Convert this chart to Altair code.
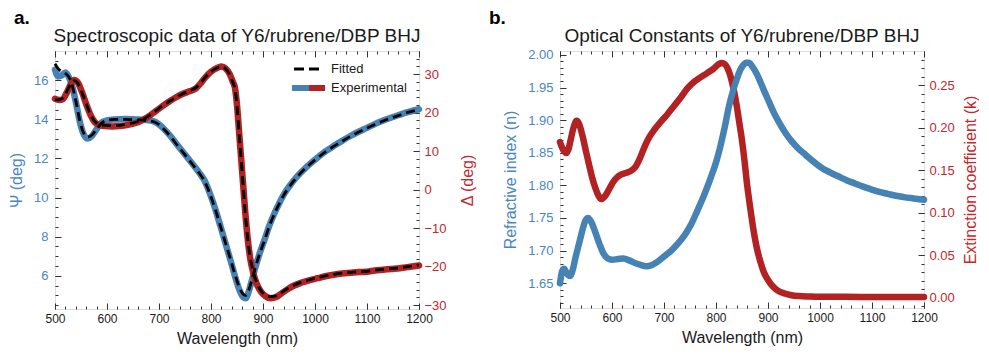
import altair as alt
import pandas as pd

FONT = "Liberation Sans"
BLUE = "#4682b4"
RED = "#b22222"
BLUE_T = "#4a86bf"
RED_T = "#c1272d"
FRAME = "#333333"
INK = "#1a1a1a"

# ---------------- Panel a: spectroscopic data ----------------
psi_wl = [500, 506, 513, 520, 526, 532, 540, 548, 555, 563, 571, 580, 590, 600, 615, 635,
          655, 675, 690, 700, 710, 722, 735, 750, 765, 778, 788, 798, 809, 818, 828, 838,
          847, 855, 862, 867, 872, 878, 884, 893, 903, 912, 922, 931, 941, 954, 967, 985,
          1005, 1020, 1036, 1052, 1068, 1084, 1100, 1115, 1131, 1147, 1163, 1180, 1200]
psi_exp = [16.55, 16.2, 16.25, 16.4, 16.2, 15.8, 14.9, 13.85, 13.25, 13.02, 13.15, 13.5, 13.85,
           13.95, 14.0, 14.02, 14.0, 13.97, 13.9, 13.75, 13.5, 13.15, 12.7, 12.2, 11.7, 11.25,
           10.85, 10.2, 9.35, 8.55, 7.65, 6.75, 5.9, 5.25, 4.9, 4.85, 5.15, 5.7, 6.3, 7.1, 7.85,
           8.55, 9.2, 9.7, 10.2, 10.7, 11.12, 11.6, 12.05, 12.36, 12.64, 12.9, 13.15, 13.37,
           13.57, 13.76, 13.94, 14.1, 14.24, 14.38, 14.52]
psi_fit = [16.85, 16.6, 16.45, 16.35, 16.2, 15.85, 14.95, 13.9, 13.3, 13.1, 13.2, 13.5, 13.82,
           13.95, 14.0, 14.0, 13.98, 13.95, 13.88, 13.73, 13.48, 13.13, 12.68, 12.18, 11.68,
           11.23, 10.82, 10.18, 9.33, 8.55, 7.67, 6.8, 5.98, 5.38, 5.05, 5.0, 5.22, 5.72, 6.3,
           7.08, 7.82, 8.52, 9.17, 9.68, 10.17, 10.68, 11.1, 11.58, 12.03, 12.34, 12.62, 12.88,
           13.13, 13.35, 13.55, 13.74, 13.92, 14.08, 14.22, 14.37, 14.5]

del_wl = [500, 508, 515, 522, 530, 537, 544, 552, 560, 568, 576, 585, 595, 610, 625, 640, 655,
          670, 683, 695, 708, 721, 733, 746, 760, 771, 780, 790, 800, 810, 820, 828, 836, 842,
          846, 850, 854, 858, 862, 866, 870, 875, 881, 888, 896, 905, 915, 925, 935, 948, 960,
          973, 990, 1005, 1020, 1036, 1052, 1068, 1084, 1100, 1115, 1131, 1147, 1163, 1180, 1200]
del_exp = [23.6, 23.3, 23.5, 25.0, 27.3, 28.5, 27.8, 25.3, 22.2, 19.5, 17.6, 16.8, 16.5, 16.4,
           16.5, 16.8, 17.3, 18.2, 19.3, 20.5, 21.8, 23.0, 24.0, 24.9, 25.6, 26.3, 27.6, 29.3,
           30.6, 31.5, 32.0, 31.5, 30.0, 28.0, 26.5, 22.0, 15.0, 8.0, 1.0, -6.0, -12.0, -17.5,
           -21.5, -24.5, -26.5, -27.7, -28.2, -27.9, -27.0, -25.8, -24.9, -24.2, -23.5, -23.0,
           -22.5, -22.1, -21.8, -21.6, -21.4, -21.3, -21.0, -20.8, -20.6, -20.4, -20.1, -19.7]
del_fit = [23.3, 23.4, 23.8, 25.3, 27.4, 28.3, 27.6, 25.2, 22.3, 19.6, 17.8, 16.9, 16.7, 16.6,
           16.7, 17.0, 17.5, 18.3, 19.4, 20.6, 21.9, 23.0, 24.0, 24.9, 25.7, 26.5, 27.7, 29.3,
           30.6, 31.5, 31.9, 31.4, 29.9, 27.8, 26.2, 21.8, 14.8, 7.8, 0.8, -6.2, -12.0, -17.3,
           -21.2, -24.2, -26.2, -27.4, -27.8, -27.6, -26.8, -25.6, -24.8, -24.1, -23.4, -22.9,
           -22.4, -22.0, -21.7, -21.5, -21.3, -21.2, -20.9, -20.7, -20.5, -20.3, -20.0, -19.6]

# ---------------- Panel b: optical constants ----------------
n_wl = [500, 504, 508, 513, 519, 525, 530, 537, 543, 549, 554, 560, 568, 576, 584, 592, 600,
        611, 622, 633, 644, 655, 666, 677, 688, 700, 714, 727, 739, 752, 764, 777, 790, 800,
        809, 817, 824, 832, 840, 846, 852, 858, 863, 870, 877, 883, 892, 902, 911, 921, 933,
        946, 959, 972, 988, 1003, 1019, 1035, 1051, 1067, 1083, 1098, 1114, 1130, 1146, 1161,
        1180, 1200]
n_val = [1.650, 1.668, 1.672, 1.665, 1.661, 1.672, 1.690, 1.712, 1.731, 1.746, 1.750, 1.744,
         1.728, 1.710, 1.695, 1.688, 1.686, 1.687, 1.688, 1.685, 1.681, 1.678, 1.676, 1.678,
         1.683, 1.691, 1.700, 1.711, 1.723, 1.740, 1.761, 1.785, 1.812, 1.835, 1.862, 1.890,
         1.918, 1.943, 1.963, 1.976, 1.984, 1.988, 1.988, 1.982, 1.973, 1.963, 1.946, 1.928,
         1.912, 1.897, 1.881, 1.867, 1.856, 1.847, 1.836, 1.827, 1.820, 1.814, 1.808, 1.803,
         1.798, 1.794, 1.790, 1.787, 1.784, 1.782, 1.780, 1.778]

k_wl = [500, 506, 512, 517, 521, 526, 532, 537, 543, 550, 556, 562, 568, 574, 579, 586, 594,
        601, 609, 618, 628, 636, 644, 653, 663, 672, 682, 694, 707, 720, 733, 745, 758, 770,
        783, 795, 804, 810, 816, 822, 828, 834, 840, 845, 850, 855, 860, 866, 872, 878, 885,
        892, 900, 910, 920, 932, 945, 960, 980, 1000, 1050, 1100, 1150, 1200]
k_val = [0.183, 0.174, 0.170, 0.176, 0.187, 0.200, 0.208, 0.204, 0.191, 0.172, 0.156, 0.141,
         0.129, 0.120, 0.116, 0.119, 0.127, 0.135, 0.141, 0.145, 0.147, 0.149, 0.153, 0.163,
         0.178, 0.189, 0.198, 0.207, 0.216, 0.226, 0.236, 0.246, 0.254, 0.259, 0.264, 0.269,
         0.274, 0.276, 0.275, 0.270, 0.260, 0.245, 0.225, 0.205, 0.185, 0.160, 0.132, 0.105,
         0.080, 0.060, 0.043, 0.030, 0.021, 0.013, 0.008, 0.005, 0.003, 0.002, 0.0015, 0.0012,
         0.0011, 0.0010, 0.0010, 0.0010]

# axis tick values
x_major = [500, 600, 700, 800, 900, 1000, 1100, 1200]
x_minor = list(range(500, 1201, 20))
psi_major = [6, 8, 10, 12, 14, 16]
psi_minor = [4.5 + 0.5 * i for i in range(26)]
del_major = [-30, -20, -10, 0, 10, 20, 30]
del_minor = list(range(-30, 36, 2))
n_major = [1.65, 1.70, 1.75, 1.80, 1.85, 1.90, 1.95, 2.00]
n_minor = [round(1.62 + 0.01 * i, 2) for i in range(39)]
k_major = [0.0, 0.05, 0.10, 0.15, 0.20, 0.25]
k_minor = [round(-0.01 + 0.01 * i, 2) for i in range(30)]

W, HA, HB = 364, 258, 257
MAJ, MIN = 6, 3


def axis(orient, values, size, labels=False, title=None, lcolor=INK, tcolor=INK,
         fmt=None, lsize=12, lpad=5, tpad=6, tangle=None, tbase=None):
    kw = dict(orient=orient, values=values, tickSize=size, offset=-size, domain=False,
              grid=False, labels=labels, tickColor=FRAME, tickWidth=1, labelFlush=False)
    if labels:
        kw.update(labelColor=lcolor, labelFont=FONT, labelFontSize=lsize, labelPadding=lpad,
                  labelOverlap=False)
        if fmt:
            kw["format"] = fmt
    if title:
        kw.update(title=title, titleColor=tcolor, titleFont=FONT, titleFontSize=16,
                  titleFontWeight="normal", titlePadding=tpad)
        if tangle is not None:
            kw["titleAngle"] = tangle
        if tbase is not None:
            kw["titleBaseline"] = tbase
    else:
        kw["title"] = None
    return alt.Axis(**kw)


xs = alt.Scale(domain=[500, 1200], nice=False, zero=False)


def line(wl, vals, yscale, xax, yax, color, width, dash=None):
    df = pd.DataFrame({"wl": wl, "v": vals})
    kw = dict(color=color, strokeWidth=width, interpolate="monotone", strokeJoin="round")
    if dash:
        kw["strokeDash"] = dash
        kw["strokeCap"] = "butt"
    else:
        kw["strokeCap"] = "round"
    return alt.Chart(df).mark_line(**kw).encode(
        x=alt.X("wl:Q", scale=xs, axis=xax),
        y=alt.Y("v:Q", scale=yscale, axis=yax),
    )


one = pd.DataFrame({"a": [0]})


def label(text, x, y, size=13, weight="normal", color=INK, align="left", baseline="middle"):
    return alt.Chart(one).mark_text(text=text, align=align, baseline=baseline, font=FONT,
                                    fontSize=size, fontWeight=weight, color=color).encode(
        x=alt.value(x), y=alt.value(y))


def seg(x1, x2, y, color, width, dash=None):
    kw = dict(color=color, strokeWidth=width)
    if dash:
        kw["strokeDash"] = dash
    return alt.Chart(one).mark_rule(**kw).encode(x=alt.value(x1), x2=alt.value(x2),
                                                   y=alt.value(y))


def heading(text, w):
    return label(text, w / 2, -9, size=19, align="center", baseline="alphabetic")


def letter(text, x):
    return label(text, x, -27, size=19, weight="bold", color="#000000", baseline="alphabetic")


# ---- panel a ----
ys_psi = alt.Scale(domain=[4.3, 17.5], nice=False, zero=False)
ys_del = alt.Scale(domain=[-31, 36], nice=False, zero=False)

a_layers = [
    line(psi_wl, psi_exp, ys_psi,
         axis("bottom", x_major, MAJ, labels=True, title="Wavelength (nm)", fmt="d",
              lpad=4, tpad=6),
         axis("left", psi_major, MAJ, labels=True, title="Ψ (deg)", lcolor=BLUE_T,
              tcolor=BLUE_T, lsize=13, lpad=7, tpad=9),
         BLUE, 6.5),
    line(del_wl, del_exp, ys_del,
         axis("bottom", x_minor, MIN),
         axis("right", del_major, MAJ, labels=True, title="Δ (deg)", lcolor=RED_T,
              tcolor=RED_T, lsize=13, lpad=5, tpad=13, tangle=270, tbase="top"),
         RED, 6.5),
    line(psi_wl, psi_fit, ys_psi,
         axis("top", x_major, MAJ),
         axis("left", psi_minor, MIN),
         "#000000", 2.8, dash=[9, 5]),
    line(del_wl, del_fit, ys_del,
         axis("top", x_minor, MIN),
         axis("right", del_minor, MIN),
         "#000000", 2.8, dash=[9, 5]),
    seg(239, 266, 18, "#000000", 3, dash=[10, 5]),
    label("Fitted", 276, 18),
    seg(237, 254, 37, BLUE, 6),
    seg(254, 270, 37, RED, 6),
    label("Experimental", 276, 37),
    heading("Spectroscopic data of Y6/rubrene/DBP BHJ", W),
    letter("a.", -41),
]

panel_a = alt.layer(*a_layers).resolve_scale(y="independent").resolve_axis(
    x="independent", y="independent").properties(width=W, height=HA)

# ---- panel b ----
ys_n = alt.Scale(domain=[1.612, 2.006], nice=False, zero=False)
ys_k = alt.Scale(domain=[-0.012, 0.29], nice=False, zero=False)

b_layers = [
    line(k_wl, k_val, ys_k,
         axis("bottom", x_minor, MIN),
         axis("right", k_major, MAJ, labels=True, title="Extinction coefficient (k)",
              lcolor=RED_T, tcolor=RED_T, fmt=".2f", lsize=13, lpad=5, tpad=8, tangle=270,
              tbase="top"),
         RED, 6.5),
    line(n_wl, n_val, ys_n,
         axis("bottom", x_major, MAJ, labels=True, title="Wavelength (nm)", fmt="d",
              lpad=4, tpad=6),
         axis("left", n_major, MAJ, labels=True, title="Refractive index (n)", lcolor=BLUE_T,
              tcolor=BLUE_T, fmt=".2f", lsize=13, lpad=7, tpad=9),
         BLUE, 6.5),
    line(n_wl, n_val, ys_n,
         axis("top", x_major, MAJ),
         axis("left", n_minor, MIN),
         BLUE, 0.01),
    line(k_wl, k_val, ys_k,
         axis("top", x_minor, MIN),
         axis("right", k_minor, MIN),
         RED, 0.01),
    heading("Optical Constants of Y6/rubrene/DBP BHJ", W),
    letter("b.", -71),
]

panel_b = alt.layer(*b_layers).resolve_scale(y="independent").resolve_axis(
    x="independent", y="independent").properties(width=W, height=HB)

chart = alt.hconcat(panel_a, panel_b, spacing=12).properties(
    padding={"left": 0, "top": 0, "right": 0, "bottom": 0}
).configure_view(stroke=FRAME, strokeWidth=1.2).configure(font=FONT)

chart.save("out.html", embed_options={"renderer": "svg", "actions": False})
